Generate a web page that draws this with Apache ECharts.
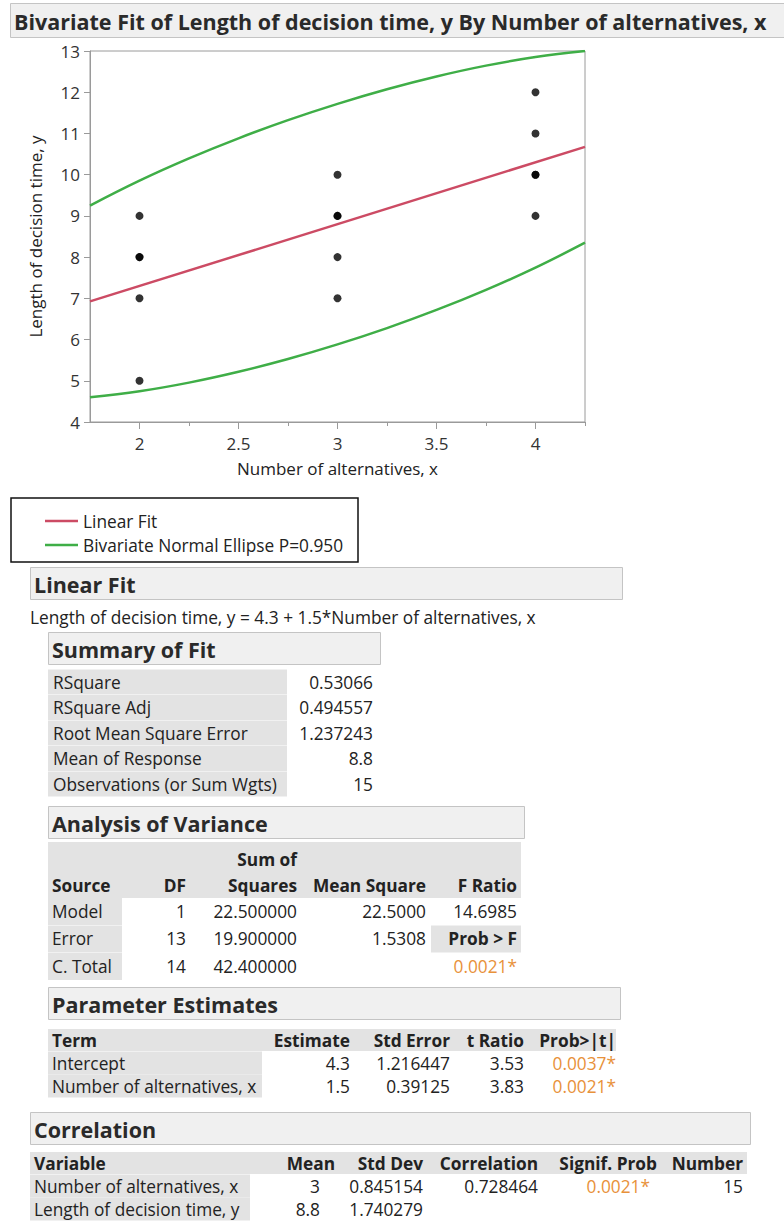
<!DOCTYPE html>
<html>
<head>
<meta charset="utf-8">
<script src="https://cdn.jsdelivr.net/npm/echarts@6/dist/echarts.min.js"></script>
<style>
html,body{margin:0;padding:0;background:#fff;}
#chart{width:784px;height:1225px;}
</style>
</head>
<body>
<div id="chart"></div>
<script>
// ---------- data ----------
const xValues = [2, 2, 2, 2, 2, 3, 3, 3, 3, 3, 4, 4, 4, 4, 4];
const yValues = [5, 7, 8, 8, 9, 7, 8, 9, 9, 10, 9, 10, 10, 11, 12];
const fitX = [1.75, 4.25];
const fitY = [6.925, 10.675];
const ellipseX = [1.75, 2, 2.25, 2.5, 2.75, 3, 3.25, 3.5, 3.75, 4, 4.25];
const ellipseUpper = [9.25, 9.855, 10.395, 10.882, 11.322, 11.718, 12.072, 12.382, 12.645, 12.854, 13.0];
const ellipseLower = [4.60, 4.746, 4.955, 5.218, 5.528, 5.882, 6.278, 6.718, 7.205, 7.745, 8.35];
const xTickLabels = [2, 2.5, 3, 3.5, 4];
const xMinorTicks = [2.25, 2.75, 3.25, 3.75, 4.25];

const titleText = 'Bivariate Fit of Length of decision time, y By Number of alternatives, x';
const xAxisName = 'Number of alternatives, x';
const yAxisName = 'Length of decision time, y';
const legendNames = ['Linear Fit', 'Bivariate Normal Ellipse P=0.950'];
const equationText = 'Length of decision time, y = 4.3 + 1.5*Number of alternatives, x';

const summaryLabels = ['RSquare', 'RSquare Adj', 'Root Mean Square Error', 'Mean of Response', 'Observations (or Sum Wgts)'];
const summaryValues = ['0.53066', '0.494557', '1.237243', '8.8', '15'];

const anovaSources = ['Model', 'Error', 'C. Total'];
const anovaDF = ['1', '13', '14'];
const anovaSS = ['22.500000', '19.900000', '42.400000'];
const anovaMS = ['22.5000', '1.5308', ''];
const anovaF = ['14.6985'];
const anovaProb = '0.0021*';

const paramTerms = ['Intercept', 'Number of alternatives, x'];
const paramEstimate = ['4.3', '1.5'];
const paramStdErr = ['1.216447', '0.39125'];
const paramT = ['3.53', '3.83'];
const paramProb = ['0.0037*', '0.0021*'];

const corrVars = ['Number of alternatives, x', 'Length of decision time, y'];
const corrMean = ['3', '8.8'];
const corrStd = ['0.845154', '1.740279'];
const corrR = ['0.728464', ''];
const corrProb = ['0.0021*', ''];
const corrN = ['15', ''];

// ---------- styles ----------
const FONT = '"Open Sans", "Noto Sans", sans-serif';
const TXT = '#222';
const ORANGE = '#e8913a';
const HDR_BG = '#f0f0f0';
const HDR_BORDER = '#c4c4c4';
const CELL_BG = '#e3e3e3';
const RED = '#cc4b64';
const GREEN = '#3fae47';
const BODY = 17.3;
const HEAD = 21.5;

function T(x, y, text, o) {
  o = o || {};
  return {
    type: 'text', x: x, y: y, silent: true,
    style: {
      text: text,
      font: (o.bold ? 'bold ' : '') + (o.size || BODY) + 'px ' + FONT,
      fill: o.color || TXT,
      align: o.align || 'left',
      verticalAlign: 'middle'
    }
  };
}
function R(x, y, w, h, fill, stroke, lw) {
  return {
    type: 'rect', silent: true,
    shape: { x: x, y: y, width: w, height: h },
    style: { fill: fill || 'none', stroke: stroke || null, lineWidth: lw || 1 }
  };
}
function L(x1, y1, x2, y2, color, lw) {
  return { type: 'line', silent: true, shape: { x1: x1, y1: y1, x2: x2, y2: y2 }, style: { stroke: color, lineWidth: lw || 2 } };
}
function header(x, y, w, h, text) {
  return [R(x + 0.5, y + 0.5, w, h, HDR_BG, HDR_BORDER), T(x + 4, y + h / 2 + 1, text, { bold: true, size: HEAD, color: '#2a2a2a' })];
}

const g = [];
// title bar
g.push(...header(10, 3, 790, 34, titleText));

// legend box
g.push(R(11, 498, 347, 64, '#fff', '#111', 1.5));
g.push(L(45, 521, 78, 521, RED, 2.5));
g.push(T(83, 521, legendNames[0]));
g.push(L(45, 545, 78, 545, GREEN, 2.5));
g.push(T(83, 545, legendNames[1]));

// Linear Fit
g.push(...header(30, 567, 592, 32, 'Linear Fit'));
g.push(T(30, 617, equationText));

// Summary of Fit
g.push(...header(48, 632, 332, 32, 'Summary of Fit'));
summaryLabels.forEach(function (lab, i) {
  const cy = 682 + i * 25.5;
  g.push(R(48, cy - 12.5, 239, 25, CELL_BG));
  g.push(T(53, cy, lab));
  g.push(T(373, cy, summaryValues[i], { align: 'right' }));
});

// Analysis of Variance
g.push(...header(48, 806, 476, 32, 'Analysis of Variance'));
g.push(R(48, 842, 473, 56, CELL_BG));
const anovaCols = [186, 297, 426, 517];
g.push(T(anovaCols[1], 859, 'Sum of', { bold: true, align: 'right' }));
g.push(T(52, 885, 'Source', { bold: true }));
['DF', 'Squares', 'Mean Square', 'F Ratio'].forEach(function (h, i) {
  g.push(T(anovaCols[i], 885, h, { bold: true, align: 'right' }));
});
anovaSources.forEach(function (s, i) {
  const cy = 911 + i * 27.5;
  g.push(R(48, cy - 13, 74, 27, CELL_BG));
  g.push(T(52, cy, s));
  g.push(T(anovaCols[0], cy, anovaDF[i], { align: 'right' }));
  g.push(T(anovaCols[1], cy, anovaSS[i], { align: 'right' }));
  if (anovaMS[i]) g.push(T(anovaCols[2], cy, anovaMS[i], { align: 'right' }));
});
g.push(T(anovaCols[3], 911, anovaF[0], { align: 'right' }));
g.push(R(431, 925.5, 90, 27, CELL_BG));
g.push(T(anovaCols[3], 938.5, 'Prob > F', { bold: true, align: 'right' }));
g.push(T(anovaCols[3], 966, anovaProb, { align: 'right', color: ORANGE }));

// Parameter Estimates
g.push(...header(48, 987, 572, 32, 'Parameter Estimates'));
g.push(R(48, 1029, 568, 22, CELL_BG));
const paramCols = [350, 450, 524, 616];
g.push(T(52, 1040, 'Term', { bold: true }));
['Estimate', 'Std Error', 't Ratio', 'Prob>|t|'].forEach(function (h, i) {
  g.push(T(paramCols[i], 1040, h, { bold: true, align: 'right' }));
});
paramTerms.forEach(function (t, i) {
  const cy = 1063 + i * 23;
  g.push(R(48, cy - 11.5, 214, 23, CELL_BG));
  g.push(T(52, cy, t));
  g.push(T(paramCols[0], cy, paramEstimate[i], { align: 'right' }));
  g.push(T(paramCols[1], cy, paramStdErr[i], { align: 'right' }));
  g.push(T(paramCols[2], cy, paramT[i], { align: 'right' }));
  g.push(T(paramCols[3], cy, paramProb[i], { align: 'right', color: ORANGE }));
});

// Correlation
g.push(...header(30, 1112, 720, 32, 'Correlation'));
g.push(R(30, 1152, 717, 22, CELL_BG));
const corrHeadCols = [335, 423, 538, 657, 743];
g.push(T(34, 1163, 'Variable', { bold: true }));
['Mean', 'Std Dev', 'Correlation', 'Signif. Prob', 'Number'].forEach(function (h, i) {
  g.push(T(corrHeadCols[i], 1163, h, { bold: true, align: 'right' }));
});
const corrCols = [320, 423, 538, 650, 743];
corrVars.forEach(function (v, i) {
  const cy = 1186 + i * 23;
  g.push(R(30, cy - 11.5, 220, 23, CELL_BG));
  g.push(T(34, cy, v));
  g.push(T(corrCols[0], cy, corrMean[i], { align: 'right' }));
  g.push(T(corrCols[1], cy, corrStd[i], { align: 'right' }));
  if (corrR[i]) g.push(T(corrCols[2], cy, corrR[i], { align: 'right' }));
  if (corrProb[i]) g.push(T(corrCols[3], cy, corrProb[i], { align: 'right', color: ORANGE }));
  if (corrN[i]) g.push(T(corrCols[4], cy, corrN[i], { align: 'right' }));
});

const chart = echarts.init(document.getElementById('chart'), null, { renderer: 'svg' });
chart.setOption({
  animation: false,
  backgroundColor: '#fff',
  textStyle: { fontFamily: FONT },
  grid: { left: 90, top: 51, width: 495, height: 371, show: true, borderColor: '#9a9a9a', borderWidth: 1, backgroundColor: '#fff' },
  xAxis: [{
    type: 'value', min: 1.75, max: 4.25,
    name: xAxisName, nameLocation: 'middle', nameGap: 38,
    nameTextStyle: { fontSize: 17, color: TXT, fontFamily: FONT },
    axisLine: { show: true, lineStyle: { color: '#9a9a9a' } },
    axisTick: { show: true, length: 7, lineStyle: { color: '#9a9a9a' }, customValues: xTickLabels },
    axisLabel: { fontSize: 17, color: '#333', margin: 13, fontFamily: FONT, customValues: xTickLabels },
    splitLine: { show: false }
  }, {
    type: 'value', min: 1.75, max: 4.25, position: 'bottom', gridIndex: 0,
    axisLine: { show: false },
    axisTick: { show: true, length: 4, lineStyle: { color: '#9a9a9a' }, customValues: xMinorTicks },
    axisLabel: { show: false },
    splitLine: { show: false }
  }],
  yAxis: {
    type: 'value', min: 4, max: 13, interval: 1,
    name: yAxisName, nameLocation: 'middle', nameGap: 46, nameRotate: 90,
    nameTextStyle: { fontSize: 17, color: TXT, fontFamily: FONT },
    axisLine: { show: true, lineStyle: { color: '#9a9a9a' } },
    axisTick: { show: true, length: 6, lineStyle: { color: '#9a9a9a' } },
    axisLabel: { fontSize: 17, color: '#333', margin: 10, fontFamily: FONT },
    splitLine: { show: false }
  },
  series: [
    {
      name: legendNames[1], type: 'line', smooth: 0.4, showSymbol: false, silent: true,
      data: ellipseX.map(function (x, i) { return [x, ellipseUpper[i]]; }),
      lineStyle: { color: GREEN, width: 2.5 }, clip: true, z: 2
    },
    {
      name: legendNames[1], type: 'line', smooth: 0.4, showSymbol: false, silent: true,
      data: ellipseX.map(function (x, i) { return [x, ellipseLower[i]]; }),
      lineStyle: { color: GREEN, width: 2.5 }, clip: true, z: 2
    },
    {
      name: legendNames[0], type: 'line', showSymbol: false, silent: true,
      data: fitX.map(function (x, i) { return [x, fitY[i]]; }),
      lineStyle: { color: RED, width: 2.5 }, z: 3
    },
    {
      name: 'Data', type: 'scatter', symbolSize: 8, silent: true,
      data: xValues.map(function (x, i) { return [x, yValues[i]]; }),
      itemStyle: { color: '#000' }, z: 4
    }
  ],
  graphic: { elements: g }
});
</script>
</body>
</html>
